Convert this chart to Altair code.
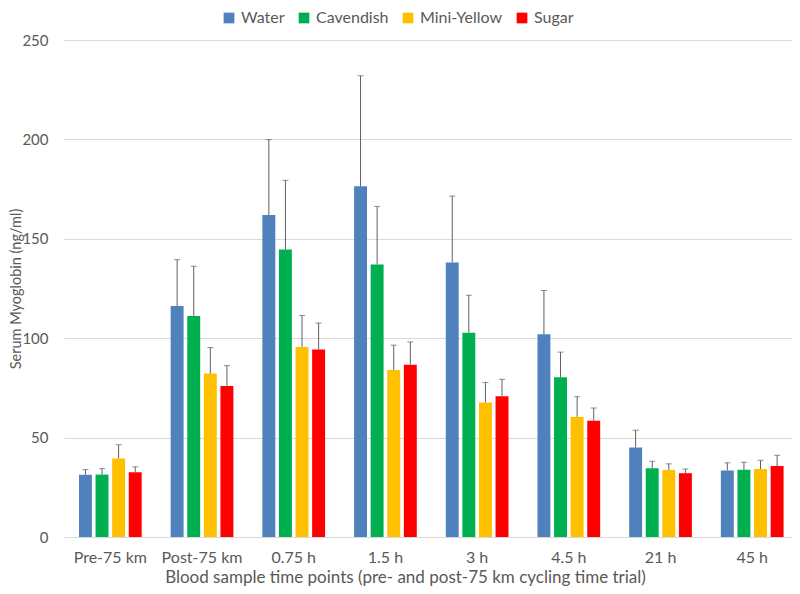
import altair as alt
import pandas as pd

categories = ["Pre-75 km", "Post-75 km", "0.75 h", "1.5 h", "3 h", "4.5 h", "21 h", "45 h"]
series = ["Water", "Cavendish", "Mini-Yellow", "Sugar"]
colors = ["#4F81BD", "#00B050", "#FFC000", "#FF0000"]

water = [31.3, 116.2, 162.0, 176.4, 138.1, 102.0, 45.0, 33.5]
cavendish = [31.4, 111.2, 144.6, 137.1, 102.8, 80.3, 34.6, 33.8]
mini_yellow = [39.5, 82.2, 95.6, 84.0, 67.7, 60.4, 33.7, 34.2]
sugar = [32.6, 76.0, 94.3, 86.7, 70.8, 58.5, 32.1, 35.7]

water_err = [2.6, 23.3, 37.9, 55.6, 33.4, 22.0, 8.7, 3.8]
cavendish_err = [3.0, 25.0, 34.8, 29.2, 18.8, 12.7, 3.5, 3.8]
mini_yellow_err = [6.9, 13.1, 15.8, 12.5, 10.0, 10.2, 3.1, 4.4]
sugar_err = [2.7, 10.2, 13.3, 11.4, 8.5, 6.4, 2.1, 5.4]

rows = []
for name, vals, errs in [
    ("Water", water, water_err),
    ("Cavendish", cavendish, cavendish_err),
    ("Mini-Yellow", mini_yellow, mini_yellow_err),
    ("Sugar", sugar, sugar_err),
]:
    for c, v, e in zip(categories, vals, errs):
        rows.append({"time": c, "drink": name, "value": v, "upper": v + e})
df = pd.DataFrame(rows)

FONT = "Lato"
TXT = "#595959"

x_scale = alt.Scale(paddingInner=0.316, paddingOuter=0.1275, align=0.64)
x_enc = alt.X(
    "time:N",
    sort=categories,
    scale=x_scale,
    axis=alt.Axis(
        title="Blood sample time points (pre- and post-75 km cycling time trial)",
        labelAngle=0,
        labelPadding=12,
        labelFontSize=16,
        titleFontSize=17,
        titlePadding=4,
        titleX=341,
        titleAlign="center",
        domain=False,
        ticks=False,
        grid=False,
    ),
)
xoff = alt.XOffset(
    "drink:N", sort=series, scale=alt.Scale(domain=series, paddingInner=0.22, paddingOuter=0)
)
y_scale = alt.Scale(domain=[0, 250], nice=False)

bars = alt.Chart(df).mark_bar().encode(
    x=x_enc,
    xOffset=xoff,
    y=alt.Y(
        "value:Q",
        scale=y_scale,
        axis=alt.Axis(
            title="Serum Myoglobin (ng/ml)",
            values=[0, 50, 100, 150, 200, 250],
            domain=False,
            ticks=False,
            labelPadding=16,
            titleFontSize=14.5,
            titleX=-48,
            titleBaseline="middle",
            gridColor="#D9D9D9",
            gridWidth=1,
        ),
    ),
    color=alt.Color(
        "drink:N",
        sort=series,
        scale=alt.Scale(domain=series, range=colors),
        legend=alt.Legend(
            title=None,
            orient="none",
            direction="horizontal",
            legendX=157,
            legendY=-30,
            symbolType="square",
            symbolSize=115,
            symbolStrokeWidth=0,
            labelFontSize=16,
            labelFont=FONT,
            labelColor=TXT,
            labelOffset=4,
            columnPadding=11,
            padding=0,
        ),
    ),
)

rules = alt.Chart(df).mark_rule(color="#606060", strokeWidth=1).encode(
    x=alt.X("time:N", sort=categories, scale=x_scale),
    xOffset=xoff,
    y=alt.Y("value:Q", scale=y_scale),
    y2="upper:Q",
)

caps = alt.Chart(df).mark_tick(color="#606060", thickness=1, size=6).encode(
    x=alt.X("time:N", sort=categories, scale=x_scale),
    xOffset=xoff,
    y=alt.Y("upper:Q", scale=y_scale),
)

chart = (
    alt.layer(bars, rules, caps)
    .properties(
        width=728,
        height=497,
        autosize="none",
        padding={"left": 56, "top": 32, "right": 0, "bottom": 49},
    )
    .configure_view(stroke=None)
    .configure_axis(
        labelFont=FONT,
        titleFont=FONT,
        labelFontSize=15,
        titleFontSize=15,
        labelColor=TXT,
        titleColor=TXT,
        titleFontWeight="normal",
    )
)

chart.save("out.html", embed_options={"renderer": "svg", "actions": False})
